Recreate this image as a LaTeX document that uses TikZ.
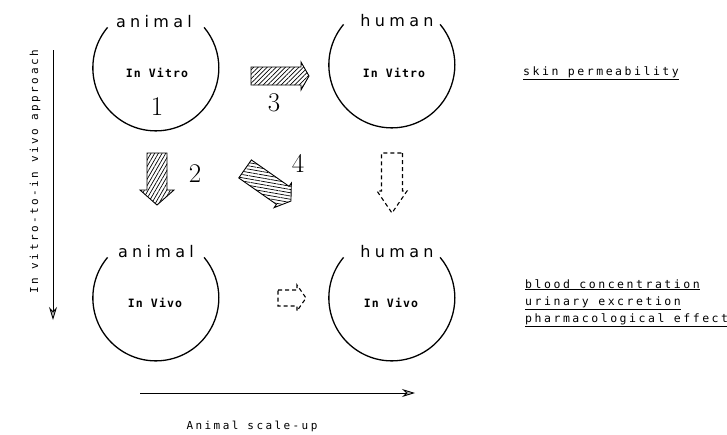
\documentclass[tikz,border=0pt]{standalone}
\usepackage{fontspec}
\usetikzlibrary{arrows.meta,patterns.meta}
\newfontfamily\labfont[LetterSpace=27]{DejaVu Sans}
\newfontfamily\twfont[LetterSpace=22]{DejaVu Sans Mono}
\newfontfamily\inwfont[LetterSpace=10]{DejaVu Sans Mono}
% #1 options, #2 total length, #3 body half width, #4 head half width, #5 head length
\newcommand\blockarr[5]{%
  \draw[#1] ({-#2/2},{-#3}) -- ({#2/2-#5},{-#3}) -- ({#2/2-#5},{-#4}) -- ({#2/2},0)
    -- ({#2/2-#5},{#4}) -- ({#2/2-#5},{#3}) -- ({-#2/2},{#3}) -- cycle;}
\tikzset{
  ring/.style={line width=1.3pt},
  spot/.style={circle, minimum size=126pt, inner sep=0pt},
  big/.style={font=\labfont\fontsize{16}{18}\selectfont, anchor=base, inner sep=0pt},
  inner/.style={font=\inwfont\bfseries\fontsize{11.5}{13}\selectfont, anchor=base, inner sep=0pt},
  num/.style={font=\fontsize{27}{30}\selectfont, anchor=base, inner sep=0pt},
  note/.style={font=\twfont\fontsize{11.5}{13}\selectfont, anchor=base west, inner sep=0pt},
  axislab/.style={font=\twfont\fontsize{11}{12}\selectfont, inner sep=0pt},
  axis/.style={line width=0.9pt, -{Stealth[length=13pt,width=8pt,fill=gray!50]}},
  hatched/.style={line width=0.9pt, pattern={Lines[angle=#1,distance=3.2pt,line width=0.7pt]}},
  dashedarr/.style={line width=1.1pt, dash pattern=on 4pt off 3pt}
}
\begin{document}
\begin{tikzpicture}[x=1pt,y=-1pt]
\useasboundingbox (0,0) rectangle (727,434);
% circles
\node[spot] (avitro) at (156,68) {};
\node[spot] (hvitro) at (392,65) {};
\node[spot] (avivo) at (156,298) {};
\node[spot] (hvivo) at (392,298) {};
\foreach \c in {avitro,hvitro,avivo,hvivo}
  \draw[ring] (\c.140) arc[start angle=140, end angle=400, radius=63pt];
% labels
\node[big] (la1) at (154,27) {animal};
\node[big] (lh1) at (397,26) {human};
\node[big] (la2) at (156,257) {animal};
\node[big] (lh2) at (397,257) {human};
\node[inner] (t1) at (157,77) {In Vitro};
\node[inner] (t2) at (394,77) {In Vitro};
\node[inner] (t3) at (155,307) {In Vivo};
\node[inner] (t4) at (391,307) {In Vivo};
% numbers
\node[num] (n1) at (157,115) {1};
\node[num] (n3) at (274,111) {3};
\node[num] (n2) at (195,182) {2};
\node[num] (n4) at (298,172) {4};
% block arrows
\begin{scope}[shift={(280,76)}]
  \blockarr{hatched=45}{58}{9}{14}{8}
\end{scope}
\begin{scope}[shift={(157,179)}, rotate=-90]
  \blockarr{hatched=60}{52}{10}{17}{15}
\end{scope}
\begin{scope}[shift={(268,185)}, rotate=-35]
  \blockarr{hatched=-10}{56}{11}{15}{10}
\end{scope}
\begin{scope}[shift={(392,183)}, rotate=-90]
  \blockarr{dashedarr}{60}{10.5}{15}{22}
\end{scope}
\begin{scope}[shift={(292,298)}]
  \blockarr{dashedarr}{28}{8}{13}{9}
\end{scope}
% right notes
\node[note] (s1) at (523,75) {\underline{skin permeability}};
\node[note] (s2) at (525,288) {\underline{blood concentration}};
\node[note] (s3) at (525,305) {\underline{urinary excretion}};
\node[note] (s4) at (525,322) {\underline{pharmacological effect}};
% axes
\coordinate (vtop) at (53,50);
\coordinate (vbot) at (53,320);
\draw[axis] (vtop) -- (vbot);
\node[axislab, rotate=90] (vlab) at (35,172) {In vitro-to-in vivo approach};
\coordinate (hl) at (140,393);
\coordinate (hr) at (415,393);
\draw[axis] (hl) -- (hr);
\node[axislab, anchor=base] (hlab) at (252,429) {Animal scale-up};
\end{tikzpicture}
\end{document}
